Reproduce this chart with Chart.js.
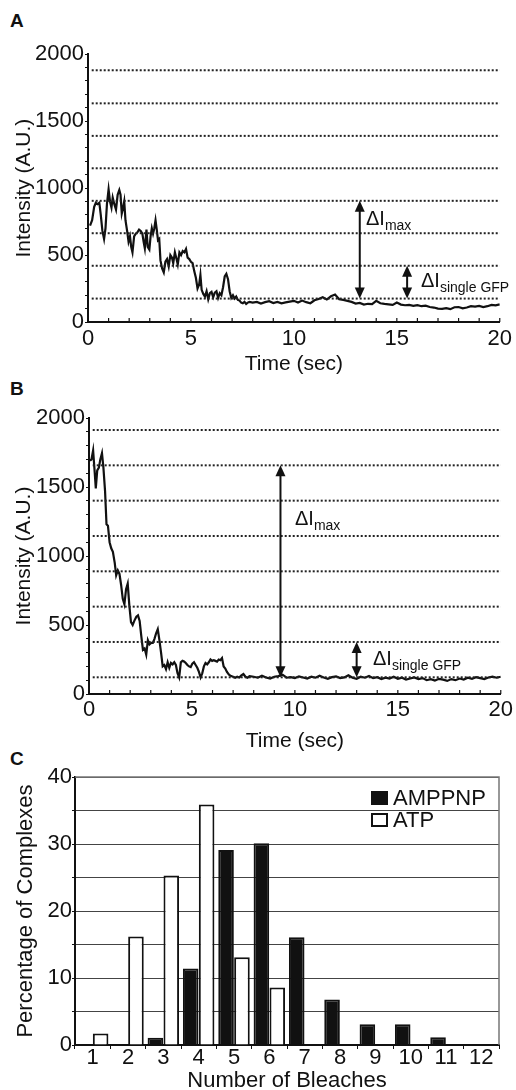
<!DOCTYPE html>
<html>
<head>
<meta charset="utf-8">
<script src="https://cdn.jsdelivr.net/npm/chart.js"></script>
<style>
  html, body { margin: 0; padding: 0; background: #fff; overflow: hidden; }
  body { width: 516px; height: 1090px; position: relative; font-family: "Liberation Sans", Arial, sans-serif; color: #111; }
  canvas { position: absolute; left: 0; }
  .letter { position: absolute; left: 10px; font-weight: bold; font-size: 19px; line-height: 19px; }
  .note { position: absolute; font-size: 20px; line-height: 20px; white-space: nowrap; }
  .note sub { font-size: 14px; vertical-align: -5px; line-height: 0; }
  .key { position: absolute; left: 371px; width: 17px; height: 14px; box-sizing: border-box; border: 2px solid #111; }
  .keytext { position: absolute; left: 393px; font-size: 22px; line-height: 22px; }
</style>
</head>
<body>
<div class="letter" style="top:11px">A</div>
<div class="letter" style="top:379px">B</div>
<div class="letter" style="top:749px">C</div>

<canvas id="chartA" width="516" height="338" style="top:40px"></canvas>
<canvas id="chartB" width="516" height="352" style="top:400px"></canvas>
<canvas id="chartC" width="516" height="330" style="top:760px"></canvas>

<div class="note" style="left:366px; top:208px">ΔI<sub>max</sub></div>
<div class="note" style="left:421px; top:270px">ΔI<sub>single GFP</sub></div>
<div class="note" style="left:295px; top:508px">ΔI<sub>max</sub></div>
<div class="note" style="left:373px; top:648px">ΔI<sub>single GFP</sub></div>

<div class="key" style="top:791px; background:#111"></div>
<div class="keytext" style="top:787px">AMPPNP</div>
<div class="key" style="top:813px; background:#fff"></div>
<div class="keytext" style="top:809px">ATP</div>

<script>
// panel A trace
const timesA = [
  0.1, 0.2, 0.3, 0.38, 0.46, 0.55, 0.62, 0.7, 0.78, 0.85,
  0.92, 1.0, 1.07, 1.14, 1.2, 1.28, 1.36, 1.44, 1.52, 1.58,
  1.64, 1.7, 1.76, 1.82, 1.9, 1.97, 2.04, 2.1, 2.16, 2.24,
  2.32, 2.4, 2.48, 2.56, 2.64, 2.7, 2.76, 2.84, 2.9, 2.98,
  3.04, 3.1, 3.16, 3.22, 3.28, 3.34, 3.4, 3.46, 3.52, 3.6,
  3.68, 3.76, 3.84, 3.92, 4.0, 4.08, 4.14, 4.22, 4.3, 4.36,
  4.44, 4.52, 4.6, 4.68, 4.76, 4.84, 4.92, 5.0, 5.08, 5.16,
  5.24, 5.32, 5.4, 5.46, 5.52, 5.6, 5.68, 5.76, 5.84, 5.92,
  6.0, 6.08, 6.16, 6.24, 6.32, 6.4, 6.48, 6.56, 6.64, 6.72,
  6.8, 6.88, 6.96, 7.04, 7.12, 7.2, 7.28, 7.36, 7.44, 7.52,
  7.6, 7.68, 7.76, 7.84, 8.0, 8.2, 8.4, 8.6, 8.8, 9.0,
  9.2, 9.4, 9.6, 9.8, 10.0, 10.2, 10.4, 10.6, 10.8, 11.0,
  11.2, 11.4, 11.6, 11.8, 12.0, 12.2, 12.4, 12.6, 12.8, 13.0,
  13.2, 13.4, 13.6, 13.8, 14.0, 14.2, 14.4, 14.6, 14.8, 15.0,
  15.2, 15.4, 15.6, 15.8, 16.0, 16.2, 16.4, 16.6, 16.8, 17.0,
  17.2, 17.4, 17.6, 17.8, 18.0, 18.2, 18.4, 18.6, 18.8, 19.0,
  19.2, 19.4, 19.6, 19.8, 20.0
];
const intensityA = [
  720, 760, 860, 890, 880, 890, 800, 680, 620, 700,
  880, 990, 900, 855, 930, 880, 840, 950, 985, 950,
  810, 850, 900, 760, 680, 600, 640, 560, 520, 640,
  660, 670, 690, 680, 660, 600, 550, 690, 560, 540,
  640, 700, 660, 700, 760, 690, 610, 620, 460, 400,
  370, 450, 470, 415, 500, 480, 440, 520, 470, 430,
  520, 500, 530, 520, 545, 480, 470, 450, 440, 380,
  330, 250, 280, 350, 240, 210, 190, 230, 170, 215,
  225, 185, 220, 230, 180, 215, 200, 260, 340, 360,
  320, 230, 180, 200, 175, 190, 165, 160, 145, 140,
  150, 135, 145, 150, 145, 150, 138, 148, 155, 142,
  150, 140, 146, 152, 158, 145, 160, 148, 140, 162,
  172, 185, 168, 192, 205, 170, 165, 158, 150, 138,
  142, 130, 136, 134, 158, 140, 135, 132, 128, 145,
  130, 125, 128, 120, 126, 118, 122, 112, 108, 100,
  98, 104, 96, 110, 112, 102, 108, 118, 115, 120,
  112, 118, 128, 124, 132
];
const levelsA = [175, 420, 663, 905, 1148, 1390, 1633, 1880];
const arrowsA = [{ t: 13.2, from: 905, to: 175 }, { t: 15.5, from: 420, to: 175 }];

// panel B trace
const timesB = [
  0.05, 0.12, 0.2, 0.28, 0.33, 0.4, 0.48, 0.55, 0.63, 0.7,
  0.78, 0.85, 0.92, 1.0, 1.08, 1.16, 1.25, 1.32, 1.4, 1.48,
  1.56, 1.64, 1.72, 1.8, 1.88, 1.96, 2.04, 2.12, 2.2, 2.3,
  2.38, 2.46, 2.54, 2.62, 2.7, 2.78, 2.86, 2.94, 3.02, 3.1,
  3.18, 3.26, 3.34, 3.42, 3.5, 3.58, 3.66, 3.74, 3.82, 3.9,
  3.98, 4.06, 4.14, 4.22, 4.3, 4.38, 4.46, 4.54, 4.62, 4.7,
  4.78, 4.86, 4.94, 5.02, 5.1, 5.18, 5.26, 5.34, 5.42, 5.5,
  5.58, 5.66, 5.74, 5.82, 5.9, 5.98, 6.06, 6.14, 6.22, 6.3,
  6.38, 6.46, 6.54, 6.62, 6.7, 6.8, 6.9, 7.0, 7.1, 7.2,
  7.3, 7.4, 7.5, 7.6, 7.7, 7.8, 8.0, 8.2, 8.4, 8.6,
  8.8, 9.0, 9.2, 9.4, 9.6, 9.8, 10.0, 10.2, 10.4, 10.6,
  10.8, 11.0, 11.2, 11.4, 11.6, 11.8, 12.0, 12.2, 12.4, 12.6,
  12.8, 13.0, 13.2, 13.4, 13.6, 13.8, 14.0, 14.2, 14.4, 14.6,
  14.8, 15.0, 15.2, 15.4, 15.6, 15.8, 16.0, 16.2, 16.4, 16.6,
  16.8, 17.0, 17.2, 17.4, 17.6, 17.8, 18.0, 18.2, 18.4, 18.6,
  18.8, 19.0, 19.2, 19.4, 19.6, 19.8, 20.0
];
const intensityB = [
  1690, 1700, 1765, 1600, 1490, 1620, 1640, 1700, 1745, 1640,
  1470, 1230, 1220, 1100, 1056, 1030, 950, 860, 895, 870,
  790, 690, 650, 760, 800, 640, 520, 500, 530, 560,
  570, 530, 420, 320, 330, 285, 390, 360, 370, 370,
  400, 440, 470, 390, 300, 200, 210, 180, 230, 190,
  225, 215, 230, 210, 150, 120, 230, 240, 235, 225,
  210, 200, 195, 220, 230, 210, 190, 160, 120, 150,
  200, 225, 215, 230, 250, 240, 245, 240, 235, 250,
  245, 260, 200, 185, 160, 140, 130, 125, 118, 125,
  120, 135, 145, 125, 118, 130, 125, 118, 132, 120,
  112, 125, 130, 140, 118, 122, 115, 128, 120, 112,
  125, 118, 132, 120, 110, 122, 128, 115, 120, 135,
  118, 110, 125, 118, 130, 115, 122, 108, 118, 112,
  125, 110, 118, 105, 112, 120, 108, 115, 100, 108,
  98, 110, 104, 95, 108, 100, 112, 105, 118, 110,
  122, 115, 108, 120, 126, 118, 125
];
const levelsB = [121, 377, 633, 889, 1145, 1401, 1657, 1913];
const arrowsB = [{ t: 9.3, from: 1657, to: 121 }, { t: 13.0, from: 377, to: 121 }];

// panel C histogram
const bleaches = ['1', '2', '3', '4', '5', '6', '7', '8', '9', '10', '11', '12'];
const amppnp = [0, 0, 1.1, 11.4, 29.1, 30.1, 16.1, 6.8, 3.1, 3.1, 1.15, 0];
const atp = [1.7, 16.2, 25.3, 35.9, 13.1, 8.6, 0, 0, 0, 0, 0, 0];

Chart.defaults.font.family = '"Liberation Sans", Arial, sans-serif';
Chart.defaults.color = '#111';

const ink = '#111';

// double headed arrows between step levels
const arrowPlugin = {
  id: 'arrows',
  afterDatasetsDraw(chart, args, opts) {
    const { ctx, scales: { x, y } } = chart;
    (opts.list || []).forEach(a => {
      const px = x.getPixelForValue(a.t);
      const top = y.getPixelForValue(a.from);
      const bot = y.getPixelForValue(a.to);
      ctx.save();
      ctx.strokeStyle = ink;
      ctx.fillStyle = ink;
      ctx.lineWidth = 2;
      ctx.beginPath();
      ctx.moveTo(px, top + 6);
      ctx.lineTo(px, bot - 6);
      ctx.stroke();
      ctx.beginPath();
      ctx.moveTo(px, top);
      ctx.lineTo(px - 5, top + 11);
      ctx.lineTo(px + 5, top + 11);
      ctx.closePath();
      ctx.fill();
      ctx.beginPath();
      ctx.moveTo(px, bot);
      ctx.lineTo(px - 5, bot - 11);
      ctx.lineTo(px + 5, bot - 11);
      ctx.closePath();
      ctx.fill();
      ctx.restore();
    });
  }
};

// x ticks pointing up into the plot
const innerTicks = {
  id: 'innerTicks',
  afterDraw(chart) {
    const s = chart.scales.x;
    const ctx = chart.ctx;
    const b = chart.chartArea.bottom;
    ctx.save();
    ctx.strokeStyle = ink;
    ctx.lineWidth = 1.2;
    s.ticks.forEach(t => {
      const px = s.getPixelForValue(t.value);
      ctx.beginPath();
      ctx.moveTo(px, b);
      ctx.lineTo(px, b - 4);
      ctx.stroke();
    });
    ctx.restore();
  }
};

function traceChart(id, times, values, levels, arrows, box) {
  const datasets = levels.map(l => ({
    data: [{ x: 0.18, y: l }, { x: 20, y: l }],
    borderColor: '#222',
    borderWidth: 2,
    borderDash: [2, 2],
    pointRadius: 0
  }));
  datasets.push({
    data: times.map((t, i) => ({ x: t, y: values[i] })),
    borderColor: ink,
    borderWidth: 2.2,
    pointRadius: 0,
    tension: 0
  });

  return new Chart(document.getElementById(id), {
    type: 'line',
    data: { datasets },
    options: {
      responsive: false,
      animation: false,
      devicePixelRatio: 1,
      layout: { padding: { top: box.top, right: 13, left: 0, bottom: 0 } },
      plugins: {
        legend: { display: false },
        tooltip: { enabled: false },
        arrows: { list: arrows }
      },
      scales: {
        x: {
          type: 'linear',
          min: 0,
          max: 20,
          border: { display: true, color: ink, width: 2 },
          grid: { display: false, drawTicks: false },
          ticks: {
            stepSize: 1,
            autoSkip: false,
            maxRotation: 0,
            padding: box.tickPad,
            font: { size: 22 },
            callback: v => (v % 5 === 0 ? v : '')
          },
          title: {
            display: true,
            text: 'Time (sec)',
            font: { size: 21, lineHeight: 1 },
            padding: { top: 0, bottom: box.titlePad }
          },
          afterFit: s => { s.height = box.xHeight; }
        },
        y: {
          min: 0,
          max: 2000,
          border: { display: true, color: ink, width: 2 },
          grid: { display: true, drawOnChartArea: false, drawTicks: true, tickLength: 3, color: ink, lineWidth: 1 },
          ticks: {
            stepSize: 100,
            autoSkip: false,
            padding: 1,
            font: { size: 22 },
            callback: v => (v % 500 === 0 ? v : '')
          },
          title: {
            display: true,
            text: 'Intensity (A.U.)',
            font: { size: 21, lineHeight: 1 },
            padding: { top: 14, bottom: 0 }
          },
          afterFit: s => { s.width = box.yWidth; }
        }
      }
    },
    plugins: [arrowPlugin, innerTicks]
  });
}

traceChart('chartA', timesA, intensityA, levelsA, arrowsA,
  { top: 10, xHeight: 56, yWidth: 88, tickPad: 4, titlePad: 3 });
traceChart('chartB', timesB, intensityB, levelsB, arrowsB,
  { top: 18, xHeight: 58, yWidth: 89, tickPad: 3, titlePad: 0 });

// grey frame on top and right of the histogram
const framePlugin = {
  id: 'frame',
  afterDraw(chart) {
    const { ctx, chartArea: a } = chart;
    ctx.save();
    ctx.strokeStyle = '#777';
    ctx.lineWidth = 1.5;
    ctx.beginPath();
    ctx.moveTo(a.left, a.top);
    ctx.lineTo(a.right, a.top);
    ctx.lineTo(a.right, a.bottom);
    ctx.stroke();
    ctx.restore();
  }
};

new Chart(document.getElementById('chartC'), {
  type: 'bar',
  data: {
    labels: bleaches,
    datasets: [
      { label: 'AMPPNP', data: amppnp, backgroundColor: ink, borderColor: ink, borderWidth: 2 },
      { label: 'ATP', data: atp, backgroundColor: '#fff', borderColor: ink, borderWidth: 2 }
    ]
  },
  options: {
    responsive: false,
    animation: false,
    devicePixelRatio: 1,
    datasets: { bar: { categoryPercentage: 0.9, barPercentage: 0.98 } },
    layout: { padding: { top: 17, right: 17, left: 0, bottom: 0 } },
    plugins: { legend: { display: false }, tooltip: { enabled: false } },
    scales: {
      x: {
        border: { display: true, color: ink, width: 2 },
        grid: { offset: true, drawOnChartArea: false, drawTicks: true, tickLength: 4, color: ink },
        ticks: { padding: 0, maxRotation: 0, font: { size: 22, lineHeight: 0.8 } },
        title: {
          display: true,
          text: 'Number of Bleaches',
          font: { size: 22, lineHeight: 0.8 },
          padding: { top: 0, bottom: 0 }
        },
        afterFit: s => { s.height = 45; }
      },
      y: {
        min: 0,
        max: 40,
        border: { display: true, color: ink, width: 2 },
        grid: { color: '#444', lineWidth: 1, tickLength: 3, tickColor: ink },
        ticks: {
          stepSize: 5,
          autoSkip: false,
          padding: 0,
          font: { size: 22 },
          callback: v => (v % 10 === 0 ? v : '')
        },
        title: {
          display: true,
          text: 'Percentage of Complexes',
          font: { size: 22, lineHeight: 1 },
          padding: { top: 15, bottom: 0 }
        },
        afterFit: s => { s.width = 75; }
      }
    }
  },
  plugins: [framePlugin]
});
</script>
</body>
</html>
